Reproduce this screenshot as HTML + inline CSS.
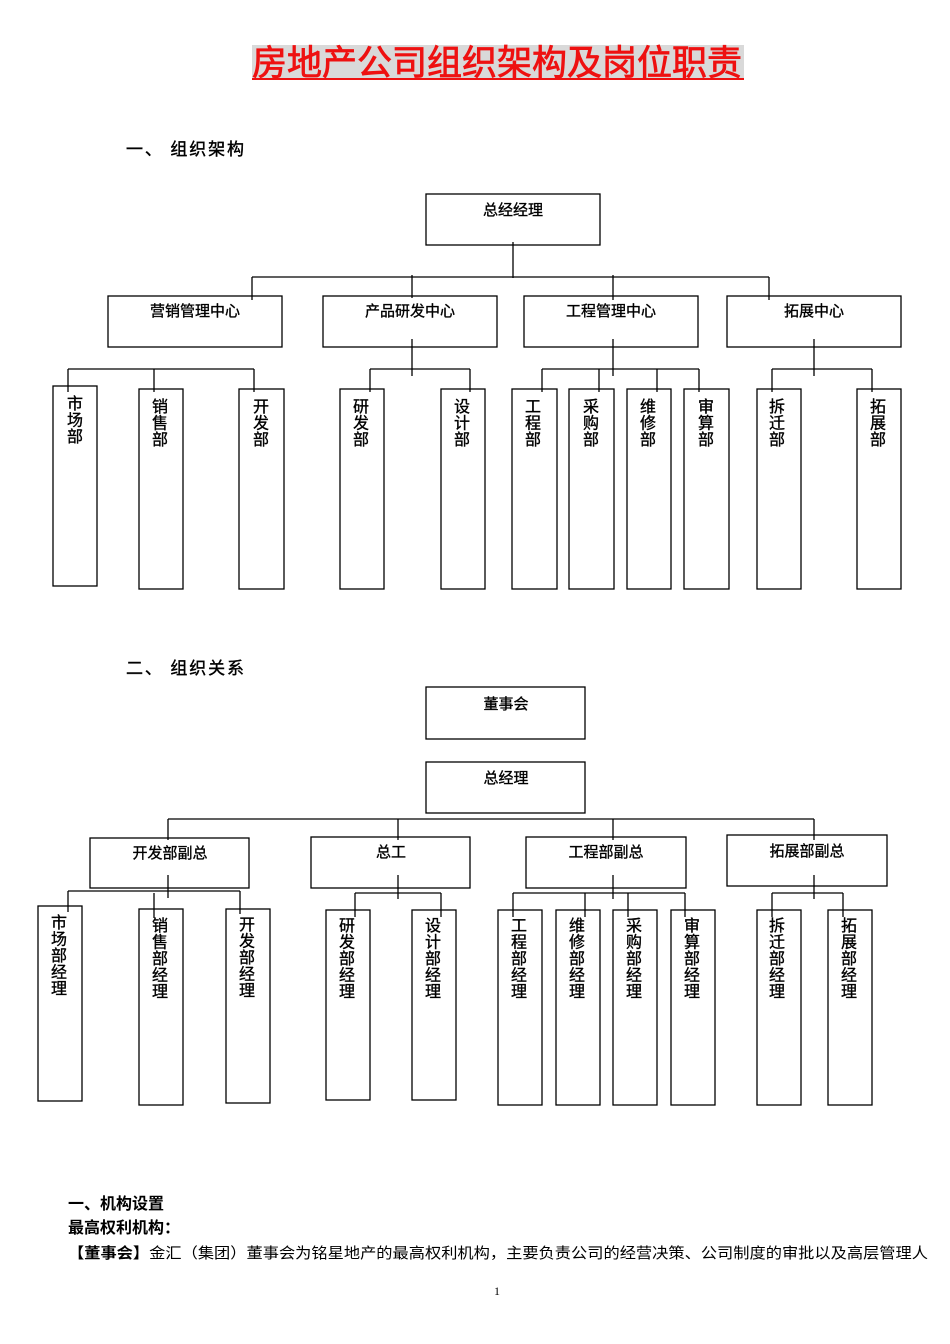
<!DOCTYPE html>
<html><head><meta charset="utf-8"><style>
html,body{margin:0;padding:0;background:#fff;}
svg{display:block;}
text{font-family:"Liberation Sans","Noto Sans CJK SC",sans-serif;fill:#000;}
</style></head><body>
<svg width="950" height="1344" viewBox="0 0 950 1344" xmlns="http://www.w3.org/2000/svg">
<rect x="252" y="45" width="492" height="35" fill="#d9d9d9"/>
<text x="252" y="75" font-size="35" textLength="490" lengthAdjust="spacingAndGlyphs" style="fill:#ee1111;stroke:#ee1111;stroke-width:0.8">房地产公司组织架构及岗位职责</text>
<line x1="252" y1="79" x2="744" y2="79" stroke="#ee1111" stroke-width="2"/>
<text x="126" y="155" font-size="17" textLength="118" lengthAdjust="spacing" style="stroke:#000;stroke-width:0.4">一、 组织架构</text>
<text x="126" y="674" font-size="17" textLength="118" lengthAdjust="spacing" style="stroke:#000;stroke-width:0.4">二、 组织关系</text>

<g fill="none" stroke="#000" stroke-width="1.3">
<rect x="426" y="194" width="174" height="51"/>
<line x1="513" y1="242" x2="513" y2="278"/>
<line x1="252" y1="277" x2="769" y2="277"/>
<line x1="252" y1="277" x2="252" y2="300"/>
<line x1="412" y1="275" x2="412" y2="298"/>
<line x1="613" y1="275" x2="613" y2="300"/>
<line x1="769" y1="277" x2="769" y2="300"/>
<rect x="108" y="296" width="174" height="51"/>
<rect x="323" y="296" width="174" height="51"/>
<rect x="524" y="296" width="174" height="51"/>
<rect x="727" y="296" width="174" height="51"/>
<line x1="68" y1="369" x2="254" y2="369"/>
<line x1="68" y1="369" x2="68" y2="392"/><line x1="154" y1="369" x2="154" y2="392"/><line x1="254" y1="369" x2="254" y2="392"/>
<line x1="412" y1="339" x2="412" y2="376"/>
<line x1="370" y1="369" x2="470" y2="369"/>
<line x1="370" y1="369" x2="370" y2="392"/><line x1="470" y1="369" x2="470" y2="392"/>
<line x1="613" y1="339" x2="613" y2="376"/>
<line x1="542" y1="369" x2="699" y2="369"/>
<line x1="542" y1="369" x2="542" y2="392"/><line x1="599" y1="369" x2="599" y2="392"/><line x1="657" y1="369" x2="657" y2="392"/><line x1="699" y1="369" x2="699" y2="392"/>
<line x1="814" y1="339" x2="814" y2="376"/>
<line x1="772" y1="369" x2="872" y2="369"/>
<line x1="772" y1="369" x2="772" y2="392"/><line x1="872" y1="369" x2="872" y2="392"/>
<rect x="53" y="386" width="44" height="200"/>
<rect x="139" y="389" width="44" height="200"/>
<rect x="239" y="389" width="45" height="200"/>
<rect x="340" y="389" width="44" height="200"/>
<rect x="441" y="389" width="44" height="200"/>
<rect x="512" y="389" width="45" height="200"/>
<rect x="569" y="389" width="45" height="200"/>
<rect x="627" y="389" width="44" height="200"/>
<rect x="684" y="389" width="45" height="200"/>
<rect x="757" y="389" width="44" height="200"/>
<rect x="857" y="389" width="44" height="200"/>

<rect x="426" y="687" width="159" height="52"/>
<rect x="426" y="762" width="159" height="51"/>
<line x1="168" y1="819" x2="814" y2="819"/>
<line x1="168" y1="819" x2="168" y2="840"/>
<line x1="398" y1="819" x2="398" y2="840"/>
<line x1="613" y1="819" x2="613" y2="840"/>
<line x1="814" y1="819" x2="814" y2="840"/>
<rect x="90" y="838" width="159" height="50"/>
<rect x="311" y="837" width="159" height="51"/>
<rect x="526" y="837" width="160" height="51"/>
<rect x="727" y="835" width="160" height="51"/>
<line x1="168" y1="875" x2="168" y2="898"/>
<line x1="68" y1="891" x2="240" y2="891"/>
<line x1="68" y1="891" x2="68" y2="912"/><line x1="154" y1="893" x2="154" y2="918"/><line x1="240" y1="891" x2="240" y2="914"/>
<line x1="398" y1="875" x2="398" y2="899"/>
<line x1="355" y1="893" x2="441" y2="893"/>
<line x1="355" y1="893" x2="355" y2="917"/><line x1="441" y1="893" x2="441" y2="917"/>
<line x1="613" y1="875" x2="613" y2="899"/>
<line x1="513" y1="893" x2="685" y2="893"/>
<line x1="513" y1="893" x2="513" y2="917"/><line x1="585" y1="893" x2="585" y2="917"/><line x1="628" y1="893" x2="628" y2="917"/><line x1="685" y1="893" x2="685" y2="917"/>
<line x1="814" y1="875" x2="814" y2="899"/>
<line x1="772" y1="893" x2="843" y2="893"/>
<line x1="772" y1="893" x2="772" y2="917"/><line x1="843" y1="893" x2="843" y2="917"/>
<rect x="38" y="906" width="44" height="195"/>
<rect x="139" y="909" width="44" height="196"/>
<rect x="226" y="909" width="44" height="194"/>
<rect x="326" y="910" width="44" height="190"/>
<rect x="412" y="910" width="44" height="190"/>
<rect x="498" y="910" width="44" height="195"/>
<rect x="556" y="910" width="44" height="195"/>
<rect x="613" y="910" width="44" height="195"/>
<rect x="671" y="910" width="44" height="195"/>
<rect x="757" y="910" width="44" height="195"/>
<rect x="828" y="910" width="44" height="195"/>
</g>

<g font-size="15" text-anchor="middle" style="stroke:#000;stroke-width:0.35">
<text x="513" y="215">总经经理</text>
<text x="195" y="316">营销管理中心</text>
<text x="410" y="316">产品研发中心</text>
<text x="611" y="316">工程管理中心</text>
<text x="814" y="316">拓展中心</text>
<text x="506" y="709">董事会</text>
<text x="506" y="783">总经理</text>
<text x="170" y="858">开发部副总</text>
<text x="391" y="857">总工</text>
<text x="606" y="857">工程部副总</text>
<text x="807" y="856">拓展部副总</text>
</g>

<g font-size="16" text-anchor="middle" style="stroke:#000;stroke-width:0.35">
<text x="75" y="409"><tspan x="75">市</tspan><tspan x="75" dy="16.5">场</tspan><tspan x="75" dy="16.5">部</tspan></text>
<text x="160" y="412"><tspan x="160">销</tspan><tspan x="160" dy="16.5">售</tspan><tspan x="160" dy="16.5">部</tspan></text>
<text x="261" y="412"><tspan x="261">开</tspan><tspan x="261" dy="16.5">发</tspan><tspan x="261" dy="16.5">部</tspan></text>
<text x="361" y="412"><tspan x="361">研</tspan><tspan x="361" dy="16.5">发</tspan><tspan x="361" dy="16.5">部</tspan></text>
<text x="462" y="412"><tspan x="462">设</tspan><tspan x="462" dy="16.5">计</tspan><tspan x="462" dy="16.5">部</tspan></text>
<text x="533" y="412"><tspan x="533">工</tspan><tspan x="533" dy="16.5">程</tspan><tspan x="533" dy="16.5">部</tspan></text>
<text x="591" y="412"><tspan x="591">采</tspan><tspan x="591" dy="16.5">购</tspan><tspan x="591" dy="16.5">部</tspan></text>
<text x="648" y="412"><tspan x="648">维</tspan><tspan x="648" dy="16.5">修</tspan><tspan x="648" dy="16.5">部</tspan></text>
<text x="706" y="412"><tspan x="706">审</tspan><tspan x="706" dy="16.5">算</tspan><tspan x="706" dy="16.5">部</tspan></text>
<text x="777" y="412"><tspan x="777">拆</tspan><tspan x="777" dy="16.5">迁</tspan><tspan x="777" dy="16.5">部</tspan></text>
<text x="878" y="412"><tspan x="878">拓</tspan><tspan x="878" dy="16.5">展</tspan><tspan x="878" dy="16.5">部</tspan></text>

<text x="59" y="928"><tspan x="59">市</tspan><tspan x="59" dy="16.5">场</tspan><tspan x="59" dy="16.5">部</tspan><tspan x="59" dy="16.5">经</tspan><tspan x="59" dy="16.5">理</tspan></text>
<text x="160" y="931"><tspan x="160">销</tspan><tspan x="160" dy="16.5">售</tspan><tspan x="160" dy="16.5">部</tspan><tspan x="160" dy="16.5">经</tspan><tspan x="160" dy="16.5">理</tspan></text>
<text x="247" y="930"><tspan x="247">开</tspan><tspan x="247" dy="16.5">发</tspan><tspan x="247" dy="16.5">部</tspan><tspan x="247" dy="16.5">经</tspan><tspan x="247" dy="16.5">理</tspan></text>
<text x="347" y="931"><tspan x="347">研</tspan><tspan x="347" dy="16.5">发</tspan><tspan x="347" dy="16.5">部</tspan><tspan x="347" dy="16.5">经</tspan><tspan x="347" dy="16.5">理</tspan></text>
<text x="433" y="931"><tspan x="433">设</tspan><tspan x="433" dy="16.5">计</tspan><tspan x="433" dy="16.5">部</tspan><tspan x="433" dy="16.5">经</tspan><tspan x="433" dy="16.5">理</tspan></text>
<text x="519" y="931"><tspan x="519">工</tspan><tspan x="519" dy="16.5">程</tspan><tspan x="519" dy="16.5">部</tspan><tspan x="519" dy="16.5">经</tspan><tspan x="519" dy="16.5">理</tspan></text>
<text x="577" y="931"><tspan x="577">维</tspan><tspan x="577" dy="16.5">修</tspan><tspan x="577" dy="16.5">部</tspan><tspan x="577" dy="16.5">经</tspan><tspan x="577" dy="16.5">理</tspan></text>
<text x="634" y="931"><tspan x="634">采</tspan><tspan x="634" dy="16.5">购</tspan><tspan x="634" dy="16.5">部</tspan><tspan x="634" dy="16.5">经</tspan><tspan x="634" dy="16.5">理</tspan></text>
<text x="692" y="931"><tspan x="692">审</tspan><tspan x="692" dy="16.5">算</tspan><tspan x="692" dy="16.5">部</tspan><tspan x="692" dy="16.5">经</tspan><tspan x="692" dy="16.5">理</tspan></text>
<text x="777" y="931"><tspan x="777">拆</tspan><tspan x="777" dy="16.5">迁</tspan><tspan x="777" dy="16.5">部</tspan><tspan x="777" dy="16.5">经</tspan><tspan x="777" dy="16.5">理</tspan></text>
<text x="849" y="931"><tspan x="849">拓</tspan><tspan x="849" dy="16.5">展</tspan><tspan x="849" dy="16.5">部</tspan><tspan x="849" dy="16.5">经</tspan><tspan x="849" dy="16.5">理</tspan></text>
</g>

<text x="68" y="1209" font-size="16" font-weight="bold">一、机构设置</text>
<text x="68" y="1233" font-size="16" font-weight="bold">最高权利机构：</text>
<text x="68" y="1258" font-size="15" textLength="860" lengthAdjust="spacingAndGlyphs"><tspan font-weight="bold">【董事会】</tspan>金汇（集团）董事会为铭星地产的最高权利机构，主要负责公司的经营决策、公司制度的审批以及高层管理人</text>
<text x="497" y="1295" font-size="12" text-anchor="middle" style="font-family:'Liberation Serif',serif">1</text>
</svg>
</body></html>
